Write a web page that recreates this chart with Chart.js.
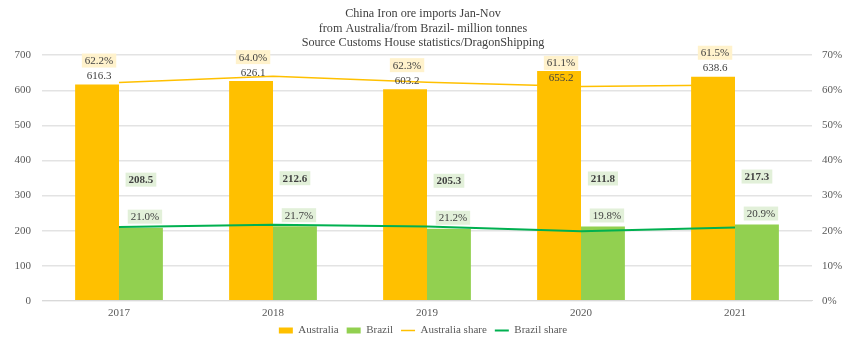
<!DOCTYPE html>
<html>
<head>
<meta charset="utf-8">
<title>China Iron ore imports Jan-Nov</title>
<script src="https://cdn.jsdelivr.net/npm/chart.js@4.4.1/dist/chart.umd.min.js"></script>
<style>
  html, body { margin: 0; padding: 0; background: #fff; }
  #wrap { width: 846px; height: 348px; }
</style>
</head>
<body>
<div id="wrap"><canvas id="oreChart"></canvas></div>
<script>
// Values (million tonnes, Jan-Nov)
const years = ['2017', '2018', '2019', '2020', '2021'];
const australia = [616.3, 626.1, 603.2, 655.2, 638.6];
const brazil = [208.5, 212.6, 205.3, 211.8, 217.3];
const australiaShare = [62.2, 64.0, 62.3, 61.1, 61.5];
const brazilShare = [21.0, 21.7, 21.2, 19.8, 20.9];
const titleLines = [
    'China Iron ore imports Jan-Nov',
    'from Australia/from Brazil- million tonnes',
    'Source Customs House statistics/DragonShipping'
];

const SERIF = '"Liberation Serif", "Times New Roman", serif';
const GOLD = '#FFC000';
const GREEN_BAR = '#92D050';
const GREEN_LINE = '#00B050';

// draws the value / share labels next to bars
const labelPlugin = {
    id: 'valueLabels',
    afterDatasetsDraw(chart) {
        const ctx = chart.ctx;
        const top = chart.chartArea.top;
        const ausBars = chart.getDatasetMeta(0).data;
        const braBars = chart.getDatasetMeta(1).data;

        const drawLabel = (text, x, y, bg, bold) => {
            ctx.save();
            ctx.font = (bold ? 'bold ' : '') + '11px ' + SERIF;
            ctx.textAlign = 'center';
            ctx.textBaseline = 'middle';
            if (bg) {
                const w = ctx.measureText(text).width + 6;
                ctx.fillStyle = bg;
                ctx.fillRect(x - w / 2, y - 7, w, 14);
            }
            ctx.fillStyle = '#404040';
            ctx.fillText(text, x, y + 0.5);
            ctx.restore();
        };

        ausBars.forEach((bar, i) => {
            let vy = bar.y - 9;
            let sy = vy - 15;
            // tall bar: value goes inside the bar, share just above it
            if (sy < top - 6) {
                vy = bar.y + 7;
                sy = bar.y - 8;
            }
            drawLabel(australia[i].toFixed(1), bar.x + 2, vy, null, false);
            drawLabel(australiaShare[i].toFixed(1) + '%', bar.x + 2, sy, '#FFF2CC', false);
        });
        braBars.forEach((bar, i) => {
            drawLabel(brazil[i].toFixed(1), bar.x, bar.y - 48, '#E2F0D9', true);
            drawLabel(brazilShare[i].toFixed(1) + '%', bar.x + 4, bar.y - 11, '#E2F0D9', false);
        });
    }
};

// keep the legend short and close under the axis
const LEGEND_HEIGHT = 22;
const LEGEND_SHIFT = 9;
const legendTweak = {
    id: 'legendTweak',
    beforeLayout(chart) {
        const lg = chart.legend;
        if (lg && !lg._tweaked) {
            const fit = lg.fit;
            lg.fit = function () {
                fit.call(this);
                this.height = LEGEND_HEIGHT;
            };
            lg._tweaked = true;
        }
    },
    afterLayout(chart) {
        const lg = chart.legend;
        lg.top -= LEGEND_SHIFT;
        lg.bottom -= LEGEND_SHIFT;
    }
};

const ctx = document.getElementById('oreChart').getContext('2d');
const chart = new Chart(ctx, {
    data: {
        labels: years,
        datasets: [
            {
                type: 'bar',
                label: 'Australia',
                data: australia,
                backgroundColor: GOLD,
                yAxisID: 'y',
                order: 1,
                barPercentage: 1,
                categoryPercentage: 0.57
            },
            {
                type: 'bar',
                label: 'Brazil',
                data: brazil,
                backgroundColor: GREEN_BAR,
                yAxisID: 'y',
                order: 2,
                barPercentage: 1,
                categoryPercentage: 0.57
            },
            {
                type: 'line',
                label: 'Australia share',
                data: australiaShare,
                borderColor: GOLD,
                backgroundColor: GOLD,
                borderWidth: 1.5,
                pointRadius: 0,
                tension: 0,
                yAxisID: 'y1',
                order: 3
            },
            {
                type: 'line',
                label: 'Brazil share',
                data: brazilShare,
                borderColor: GREEN_LINE,
                backgroundColor: GREEN_LINE,
                borderWidth: 2,
                pointRadius: 0,
                tension: 0,
                yAxisID: 'y1',
                order: 0
            }
        ]
    },
    options: {
        responsive: true,
        maintainAspectRatio: false,
        animation: false,
        layout: {
            padding: { left: 0, right: 0, top: 4, bottom: 0 }
        },
        scales: {
            x: {
                grid: { display: false, drawTicks: false },
                border: { color: '#D9D9D9' },
                ticks: {
                    color: '#595959',
                    padding: 6,
                    font: { family: SERIF, size: 11 }
                }
            },
            y: {
                position: 'left',
                min: 0,
                max: 700,
                grid: { color: '#E3E3E3', lineWidth: 1.5, drawTicks: false },
                border: { display: false },
                afterFit: (scale) => { scale.width = 42; },
                ticks: {
                    stepSize: 100,
                    color: '#595959',
                    padding: 11,
                    font: { family: SERIF, size: 11 }
                }
            },
            y1: {
                position: 'right',
                min: 0,
                max: 70,
                grid: { display: false, drawTicks: false },
                border: { display: false },
                afterFit: (scale) => { scale.width = 34; },
                ticks: {
                    stepSize: 10,
                    color: '#595959',
                    padding: 10,
                    font: { family: SERIF, size: 11 },
                    callback: v => v + '%'
                }
            }
        },
        plugins: {
            title: {
                display: true,
                text: titleLines,
                color: '#404040',
                font: { family: SERIF, size: 12.2, weight: 'normal', lineHeight: 1.18 },
                padding: { top: 3, bottom: 5 }
            },
            legend: {
                position: 'bottom',
                labels: {
                    usePointStyle: true,
                    pointStyleWidth: 14,
                    boxHeight: 6,
                    padding: 8,
                    color: '#595959',
                    font: { family: SERIF, size: 11 },
                    sort: (a, b) => a.datasetIndex - b.datasetIndex,
                    generateLabels: (c) => c.data.datasets.map((ds, i) => ({
                        text: ds.label,
                        fillStyle: ds.type === 'bar' ? ds.backgroundColor : ds.borderColor,
                        strokeStyle: ds.type === 'bar' ? ds.backgroundColor : ds.borderColor,
                        lineWidth: ds.type === 'bar' ? 0 : ds.borderWidth,
                        pointStyle: ds.type === 'bar' ? 'rect' : 'line',
                        fontColor: '#595959',
                        hidden: !c.isDatasetVisible(i),
                        datasetIndex: i
                    }))
                }
            },
            tooltip: { enabled: false }
        }
    },
    plugins: [labelPlugin, legendTweak]
});
</script>
</body>
</html>
